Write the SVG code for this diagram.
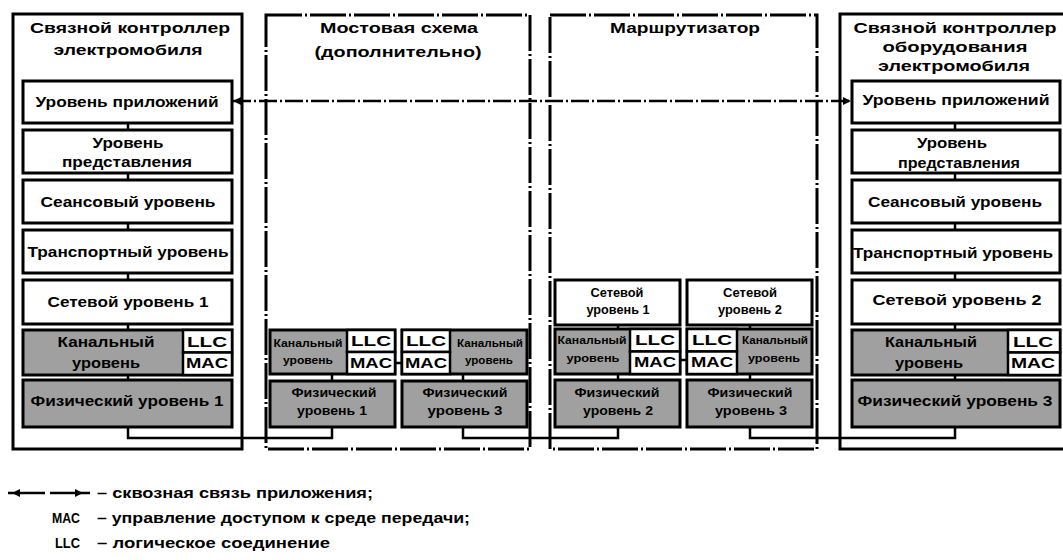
<svg xmlns="http://www.w3.org/2000/svg" width="1063" height="560" viewBox="0 0 1063 560">
<style>
.box{fill:#fff;stroke:#000;stroke-width:3}
.gray{fill:#a0a0a0;stroke:#000;stroke-width:3}
.wh{fill:#fff;stroke:#000;stroke-width:2.5}
.outer{fill:#fff;stroke:#000;stroke-width:3}
.dashed{fill:none;stroke:#000;stroke-width:3;stroke-dasharray:36 3 2 3}
.ln{stroke:#000;stroke-width:2.5;fill:none}
.app{stroke:#000;stroke-width:2.5;fill:none;stroke-dasharray:18 3 2 3}
text{font-family:"Liberation Sans",Arial,sans-serif;font-weight:bold;fill:#000}
.t{font-size:15px;text-anchor:middle}
.s{font-size:11px;text-anchor:middle}
.m{font-size:12.5px;text-anchor:middle}
.l{font-size:15px}
</style>
<defs>
<marker id="arr" viewBox="0 0 10 10" refX="10" refY="5" markerUnits="userSpaceOnUse" markerWidth="10" markerHeight="8" orient="auto-start-reverse">
<path d="M0,0 L10,5 L0,10 z" fill="#000"/>
</marker>
</defs>

<!-- Column 1 -->
<g id="evcc">
<rect class="outer" x="13" y="14" width="229" height="435"/>
<text class="t" x="130" y="33" textLength="200" lengthAdjust="spacingAndGlyphs">Связной контроллер</text>
<text class="t" x="128" y="55" textLength="149" lengthAdjust="spacingAndGlyphs">электромобиля</text>
<g id="evcc-app"><rect class="box" x="23" y="81" width="209" height="42"/><text class="t" x="127" y="107" textLength="183" lengthAdjust="spacingAndGlyphs">Уровень приложений</text></g>
<g id="evcc-pres"><rect class="box" x="23" y="130" width="209" height="43"/><text class="t" x="128" y="148" textLength="71" lengthAdjust="spacingAndGlyphs">Уровень</text><text class="t" x="127" y="167" textLength="130" lengthAdjust="spacingAndGlyphs">представления</text></g>
<g id="evcc-sess"><rect class="box" x="23" y="180" width="209" height="43"/><text class="t" x="128" y="207" textLength="175" lengthAdjust="spacingAndGlyphs">Сеансовый уровень</text></g>
<g id="evcc-trans"><rect class="box" x="23" y="230" width="209" height="43"/><text class="t" x="128" y="257" textLength="201" lengthAdjust="spacingAndGlyphs">Транспортный уровень</text></g>
<g id="evcc-net"><rect class="box" x="23" y="280" width="209" height="44"/><text class="t" x="128" y="307" textLength="161" lengthAdjust="spacingAndGlyphs">Сетевой уровень 1</text></g>
<g id="evcc-dl"><rect class="gray" x="23" y="330" width="209" height="45"/><rect class="wh" x="183" y="330" width="49" height="22.5"/><rect class="wh" x="183" y="352.5" width="49" height="22.5"/>
<text class="t" x="106" y="347" textLength="97" lengthAdjust="spacingAndGlyphs">Канальный</text><text class="t" x="106" y="368" textLength="68" lengthAdjust="spacingAndGlyphs">уровень</text>
<text class="t" x="207" y="347" textLength="40" lengthAdjust="spacingAndGlyphs">LLC</text><text class="t" x="207" y="368" textLength="42" lengthAdjust="spacingAndGlyphs">MAC</text></g>
<g id="evcc-phy"><rect class="gray" x="23" y="380" width="209" height="47"/><text class="t" x="127" y="406" textLength="193" lengthAdjust="spacingAndGlyphs">Физический уровень 1</text></g>
</g>

<!-- Column 2 -->
<g id="bridge">
<rect class="dashed" x="266" y="15" width="264" height="434"/>
<text class="t" x="399" y="33" textLength="158" lengthAdjust="spacingAndGlyphs">Мостовая схема</text>
<text class="t" x="398" y="57" textLength="167" lengthAdjust="spacingAndGlyphs">(дополнительно)</text>
<g id="bridge-dl1"><rect class="gray" x="270" y="330" width="125" height="44"/><rect class="wh" x="347" y="330" width="48" height="22"/><rect class="wh" x="347" y="352" width="48" height="22"/>
<text class="s" x="308" y="347" textLength="69" lengthAdjust="spacingAndGlyphs">Канальный</text><text class="s" x="308" y="364" textLength="50" lengthAdjust="spacingAndGlyphs">уровень</text>
<text class="t" x="371" y="346" textLength="40" lengthAdjust="spacingAndGlyphs">LLC</text><text class="t" x="371" y="368" textLength="42" lengthAdjust="spacingAndGlyphs">MAC</text></g>
<g id="bridge-dl2"><rect class="gray" x="402" y="330" width="125" height="44"/><rect class="wh" x="402" y="330" width="48" height="22"/><rect class="wh" x="402" y="352" width="48" height="22"/>
<text class="t" x="426" y="346" textLength="40" lengthAdjust="spacingAndGlyphs">LLC</text><text class="t" x="426" y="368" textLength="42" lengthAdjust="spacingAndGlyphs">MAC</text>
<text class="s" x="490" y="347" textLength="66" lengthAdjust="spacingAndGlyphs">Канальный</text><text class="s" x="489" y="364" textLength="48" lengthAdjust="spacingAndGlyphs">уровень</text></g>
<g id="bridge-phy1"><rect class="gray" x="270" y="381" width="125" height="46"/><text class="m" x="334" y="397" textLength="85" lengthAdjust="spacingAndGlyphs">Физический</text><text class="m" x="332" y="415" textLength="70" lengthAdjust="spacingAndGlyphs">уровень 1</text></g>
<g id="bridge-phy3"><rect class="gray" x="402" y="381" width="125" height="46"/><text class="m" x="465" y="397" textLength="85" lengthAdjust="spacingAndGlyphs">Физический</text><text class="m" x="465" y="415" textLength="75" lengthAdjust="spacingAndGlyphs">уровень 3</text></g>
</g>

<!-- Column 3 -->
<g id="router">
<rect class="dashed" x="550" y="15" width="267" height="434"/>
<text class="t" x="685" y="33" textLength="150" lengthAdjust="spacingAndGlyphs">Маршрутизатор</text>
<g id="router-net1"><rect class="box" x="555" y="280" width="125" height="45"/><text class="m" x="617" y="297" textLength="53" lengthAdjust="spacingAndGlyphs">Сетевой</text><text class="m" x="618" y="314" textLength="63" lengthAdjust="spacingAndGlyphs">уровень 1</text></g>
<g id="router-net2"><rect class="box" x="687" y="280" width="125" height="45"/><text class="m" x="750" y="297" textLength="54" lengthAdjust="spacingAndGlyphs">Сетевой</text><text class="m" x="750" y="314" textLength="64" lengthAdjust="spacingAndGlyphs">уровень 2</text></g>
<g id="router-dl1"><rect class="gray" x="555" y="329" width="125" height="45"/><rect class="wh" x="630" y="329" width="50" height="22.5"/><rect class="wh" x="630" y="351.5" width="50" height="22.5"/>
<text class="s" x="592" y="344" textLength="69" lengthAdjust="spacingAndGlyphs">Канальный</text><text class="s" x="593" y="362" textLength="53" lengthAdjust="spacingAndGlyphs">уровень</text>
<text class="t" x="655" y="345" textLength="40" lengthAdjust="spacingAndGlyphs">LLC</text><text class="t" x="655" y="367" textLength="42" lengthAdjust="spacingAndGlyphs">MAC</text></g>
<g id="router-dl2"><rect class="gray" x="687" y="329" width="125" height="45"/><rect class="wh" x="687" y="329" width="50" height="22.5"/><rect class="wh" x="687" y="351.5" width="50" height="22.5"/>
<text class="t" x="712" y="345" textLength="40" lengthAdjust="spacingAndGlyphs">LLC</text><text class="t" x="712" y="367" textLength="42" lengthAdjust="spacingAndGlyphs">MAC</text>
<text class="s" x="775" y="344" textLength="66" lengthAdjust="spacingAndGlyphs">Канальный</text><text class="s" x="774" y="362" textLength="52" lengthAdjust="spacingAndGlyphs">уровень</text></g>
<g id="router-phy2"><rect class="gray" x="555" y="380" width="125" height="47"/><text class="m" x="617" y="397" textLength="85" lengthAdjust="spacingAndGlyphs">Физический</text><text class="m" x="618" y="415" textLength="70" lengthAdjust="spacingAndGlyphs">уровень 2</text></g>
<g id="router-phy3"><rect class="gray" x="687" y="380" width="125" height="47"/><text class="m" x="750" y="397" textLength="85" lengthAdjust="spacingAndGlyphs">Физический</text><text class="m" x="751" y="415" textLength="72" lengthAdjust="spacingAndGlyphs">уровень 3</text></g>
</g>

<!-- Column 4 -->
<g id="secc">
<rect class="outer" x="840" y="14" width="230" height="435"/>
<text class="t" x="955" y="33" textLength="203" lengthAdjust="spacingAndGlyphs">Связной контроллер</text>
<text class="t" x="955" y="52" textLength="145" lengthAdjust="spacingAndGlyphs">оборудования</text>
<text class="t" x="954" y="71" textLength="152" lengthAdjust="spacingAndGlyphs">электромобиля</text>
<g id="secc-app"><rect class="box" x="852" y="81" width="208" height="42"/><text class="t" x="956" y="105" textLength="187" lengthAdjust="spacingAndGlyphs">Уровень приложений</text></g>
<g id="secc-pres"><rect class="box" x="852" y="130" width="208" height="43"/><text class="t" x="952" y="148" textLength="70" lengthAdjust="spacingAndGlyphs">Уровень</text><text class="t" x="959" y="168" textLength="122" lengthAdjust="spacingAndGlyphs">представления</text></g>
<g id="secc-sess"><rect class="box" x="852" y="180" width="208" height="43"/><text class="t" x="955" y="207" textLength="174" lengthAdjust="spacingAndGlyphs">Сеансовый уровень</text></g>
<g id="secc-trans"><rect class="box" x="852" y="230" width="208" height="43"/><text class="t" x="953" y="258" textLength="200" lengthAdjust="spacingAndGlyphs">Транспортный уровень</text></g>
<g id="secc-net"><rect class="box" x="852" y="280" width="208" height="44"/><text class="t" x="957" y="305" textLength="169" lengthAdjust="spacingAndGlyphs">Сетевой уровень 2</text></g>
<g id="secc-dl"><rect class="gray" x="852" y="330" width="208" height="45"/><rect class="wh" x="1008" y="330" width="52" height="22.5"/><rect class="wh" x="1008" y="352.5" width="52" height="22.5"/>
<text class="t" x="931" y="347" textLength="92" lengthAdjust="spacingAndGlyphs">Канальный</text><text class="t" x="929" y="368" textLength="68" lengthAdjust="spacingAndGlyphs">уровень</text>
<text class="t" x="1033" y="347" textLength="40" lengthAdjust="spacingAndGlyphs">LLC</text><text class="t" x="1033" y="368" textLength="44" lengthAdjust="spacingAndGlyphs">MAC</text></g>
<g id="secc-phy"><rect class="gray" x="852" y="380" width="208" height="47"/><text class="t" x="955" y="406" textLength="195" lengthAdjust="spacingAndGlyphs">Физический уровень 3</text></g>
</g>

<!-- Connectors -->
<g id="connectors">
<path class="ln" d="M128,123 V130 M128,173 V180 M128,223 V230 M128,273 V280 M128,324 V330 M128,375 V380"/>
<path class="ln" d="M955,123 V130 M955,173 V180 M955,223 V230 M955,273 V280 M955,324 V330 M955,375 V380"/>
<path class="ln" d="M332,374 V381 M463,374 V381 M395,363 H402"/>
<path class="ln" d="M618,325 V329 M750,325 V329 M618,374 V380 M750,374 V380 M680,360 H687"/>
<path class="ln" d="M128,427 V438 H332 V427 M463,427 V438 H618 V427 M750,427 V438 H955 V427"/>
<line class="app" x1="233" y1="101" x2="851" y2="101" marker-start="url(#arr)" marker-end="url(#arr)"/>
</g>

<!-- Legend -->
<g id="legend">
<path class="ln" d="M8,493 H45 M50,493 H90"/>
<path d="M12,493 L20,489 L20,497 z M83,493 L75,489 L75,497 z" fill="#000"/>
<text class="l" x="97" y="498" textLength="276" lengthAdjust="spacingAndGlyphs">– сквозная связь приложения;</text>
<text class="l" x="52" y="523" textLength="28" lengthAdjust="spacingAndGlyphs">MAC</text>
<text class="l" x="97" y="523" textLength="373" lengthAdjust="spacingAndGlyphs">– управление доступом к среде передачи;</text>
<text class="l" x="55" y="548" textLength="25" lengthAdjust="spacingAndGlyphs">LLC</text>
<text class="l" x="97" y="548" textLength="233" lengthAdjust="spacingAndGlyphs">– логическое соединение</text>
</g>
</svg>
